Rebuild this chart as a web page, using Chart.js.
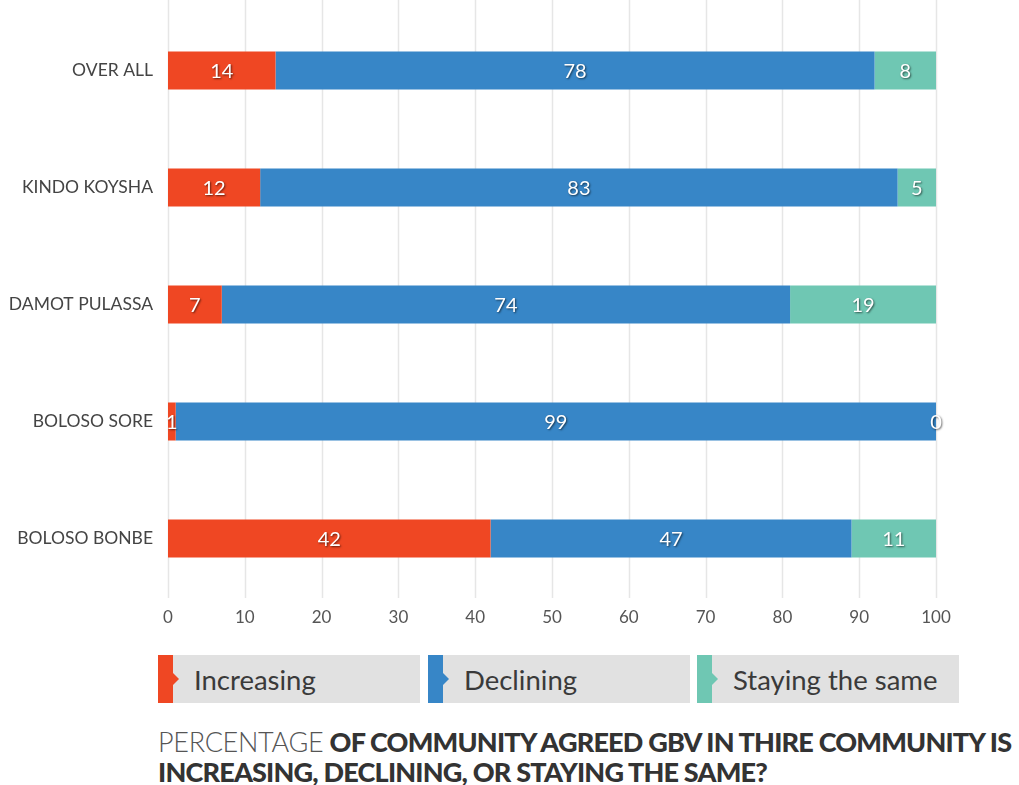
<!DOCTYPE html>
<html>
<head>
<meta charset="utf-8">
<script src="https://cdn.jsdelivr.net/npm/chart.js@4"></script>
<style>
  body { margin: 0; background: #fff; font-family: Lato, sans-serif; }
  #wrap { position: absolute; left: 0; top: 0; width: 1019px; height: 640px; }
  .leg { position: absolute; top: 655px; height: 48px; width: 262px; background: #e1e1e1; }
  .leg .bar { position: absolute; left: 0; top: 0; width: 15px; height: 48px; }
  .leg .tip { position: absolute; left: 15px; top: 18px; width: 0; height: 0;
    border-top: 6px solid transparent; border-bottom: 6px solid transparent; border-left: 6px solid; }
  .leg span { position: absolute; left: 36px; top: 8px; font-size: 27.5px; color: #3a3a3a; }
  #title { position: absolute; left: 158px; top: 727px; font-size: 27px; line-height: 30px;
    color: #333; white-space: nowrap; letter-spacing: -0.8px; }
  #title .lt { font-weight: 300; color: #555; letter-spacing: -0.3px; }
  #title b { font-weight: 900; }
</style>
</head>
<body>
<div id="wrap"><canvas id="gbv-chart"></canvas></div>
<div id="legend"></div>
<div id="title"><span class="lt">PERCENTAGE</span> <b>OF COMMUNITY AGREED GBV IN THIRE COMMUNITY IS<br>INCREASING, DECLINING, OR STAYING THE SAME?</b></div>
<script>
const labels = ["OVER ALL", "KINDO KOYSHA", "DAMOT PULASSA", "BOLOSO SORE", "BOLOSO BONBE"];
const increasing = [14, 12, 7, 1, 42];
const declining = [78, 83, 74, 99, 47];
const stayingSame = [8, 5, 19, 0, 11];
const xTicks = [0, 10, 20, 30, 40, 50, 60, 70, 80, 90, 100];

const seriesNames = ["Increasing", "Declining", "Staying the same"];
const colors = ["#ef4723", "#3786c7", "#6fc7b3"];

// legend boxes
const legendLeft = [158, 428, 697];
seriesNames.forEach((name, i) => {
  const d = document.createElement("div");
  d.className = "leg";
  d.style.left = legendLeft[i] + "px";
  d.innerHTML = '<div class="bar" style="background:' + colors[i] + '"></div>' +
    '<div class="tip" style="border-left-color:' + colors[i] + '"></div><span>' + name + "</span>";
  document.getElementById("legend").appendChild(d);
});

// full height vertical gridlines
const gridPlugin = {
  id: "grid",
  beforeDatasetsDraw(chart) {
    const ctx = chart.ctx;
    const x = chart.scales.x;
    ctx.save();
    ctx.strokeStyle = "#e6e6e6";
    ctx.lineWidth = 1.5;
    xTicks.forEach((t) => {
      const px = Math.round(x.getPixelForValue(t)) + 0.5;
      ctx.beginPath();
      ctx.moveTo(px, 0);
      ctx.lineTo(px, chart.chartArea.bottom + 1);
      ctx.stroke();
    });
    ctx.restore();
  },
};

// value labels in the middle of each segment
const valuePlugin = {
  id: "values",
  afterDatasetsDraw(chart) {
    const ctx = chart.ctx;
    ctx.save();
    ctx.font = "20px Lato";
    ctx.fillStyle = "#fff";
    ctx.textAlign = "center";
    ctx.textBaseline = "middle";
    ctx.shadowColor = "rgba(0,0,0,0.6)";
    ctx.shadowOffsetX = 1;
    ctx.shadowOffsetY = 1;
    ctx.shadowBlur = 2;
    chart.data.datasets.forEach((ds, i) => {
      chart.getDatasetMeta(i).data.forEach((bar, j) => {
        const p = bar.getProps(["x", "y", "base"], true);
        ctx.fillText(ds.data[j], (p.x + p.base) / 2, p.y + 1);
      });
    });
    ctx.restore();
  },
};

const data = {
  labels: labels,
  datasets: [
    { label: seriesNames[0], data: increasing, backgroundColor: colors[0] },
    { label: seriesNames[1], data: declining, backgroundColor: colors[1] },
    { label: seriesNames[2], data: stayingSame, backgroundColor: colors[2] },
  ],
};

const config = {
  type: "bar",
  data: data,
  plugins: [gridPlugin, valuePlugin],
  options: {
    indexAxis: "y",
    responsive: true,
    maintainAspectRatio: false,
    animation: false,
    layout: { padding: { top: 12, right: 83, left: 0, bottom: 0 } },
    datasets: { bar: { barPercentage: 1, categoryPercentage: 0.325 } },
    plugins: { legend: { display: false }, tooltip: { enabled: false } },
    scales: {
      x: {
        stacked: true,
        min: 0,
        max: 100,
        afterBuildTicks: (s) => { s.ticks = xTicks.map((v) => ({ value: v })); },
        grid: { display: false },
        border: { display: false },
        ticks: { color: "#555", font: { family: "Lato", size: 17 }, padding: 2 },
        afterFit: (s) => { s.height = 43; },
      },
      y: {
        stacked: true,
        grid: { display: false },
        border: { display: false },
        ticks: { color: "#444", font: { family: "Lato", size: 17.5 }, padding: 7 },
        afterFit: (s) => { s.width = 168; s.paddingTop = 0; s.paddingBottom = 0; },
      },
    },
  },
};

let myChart = new Chart(document.getElementById("gbv-chart"), config);
</script>
</body>
</html>
